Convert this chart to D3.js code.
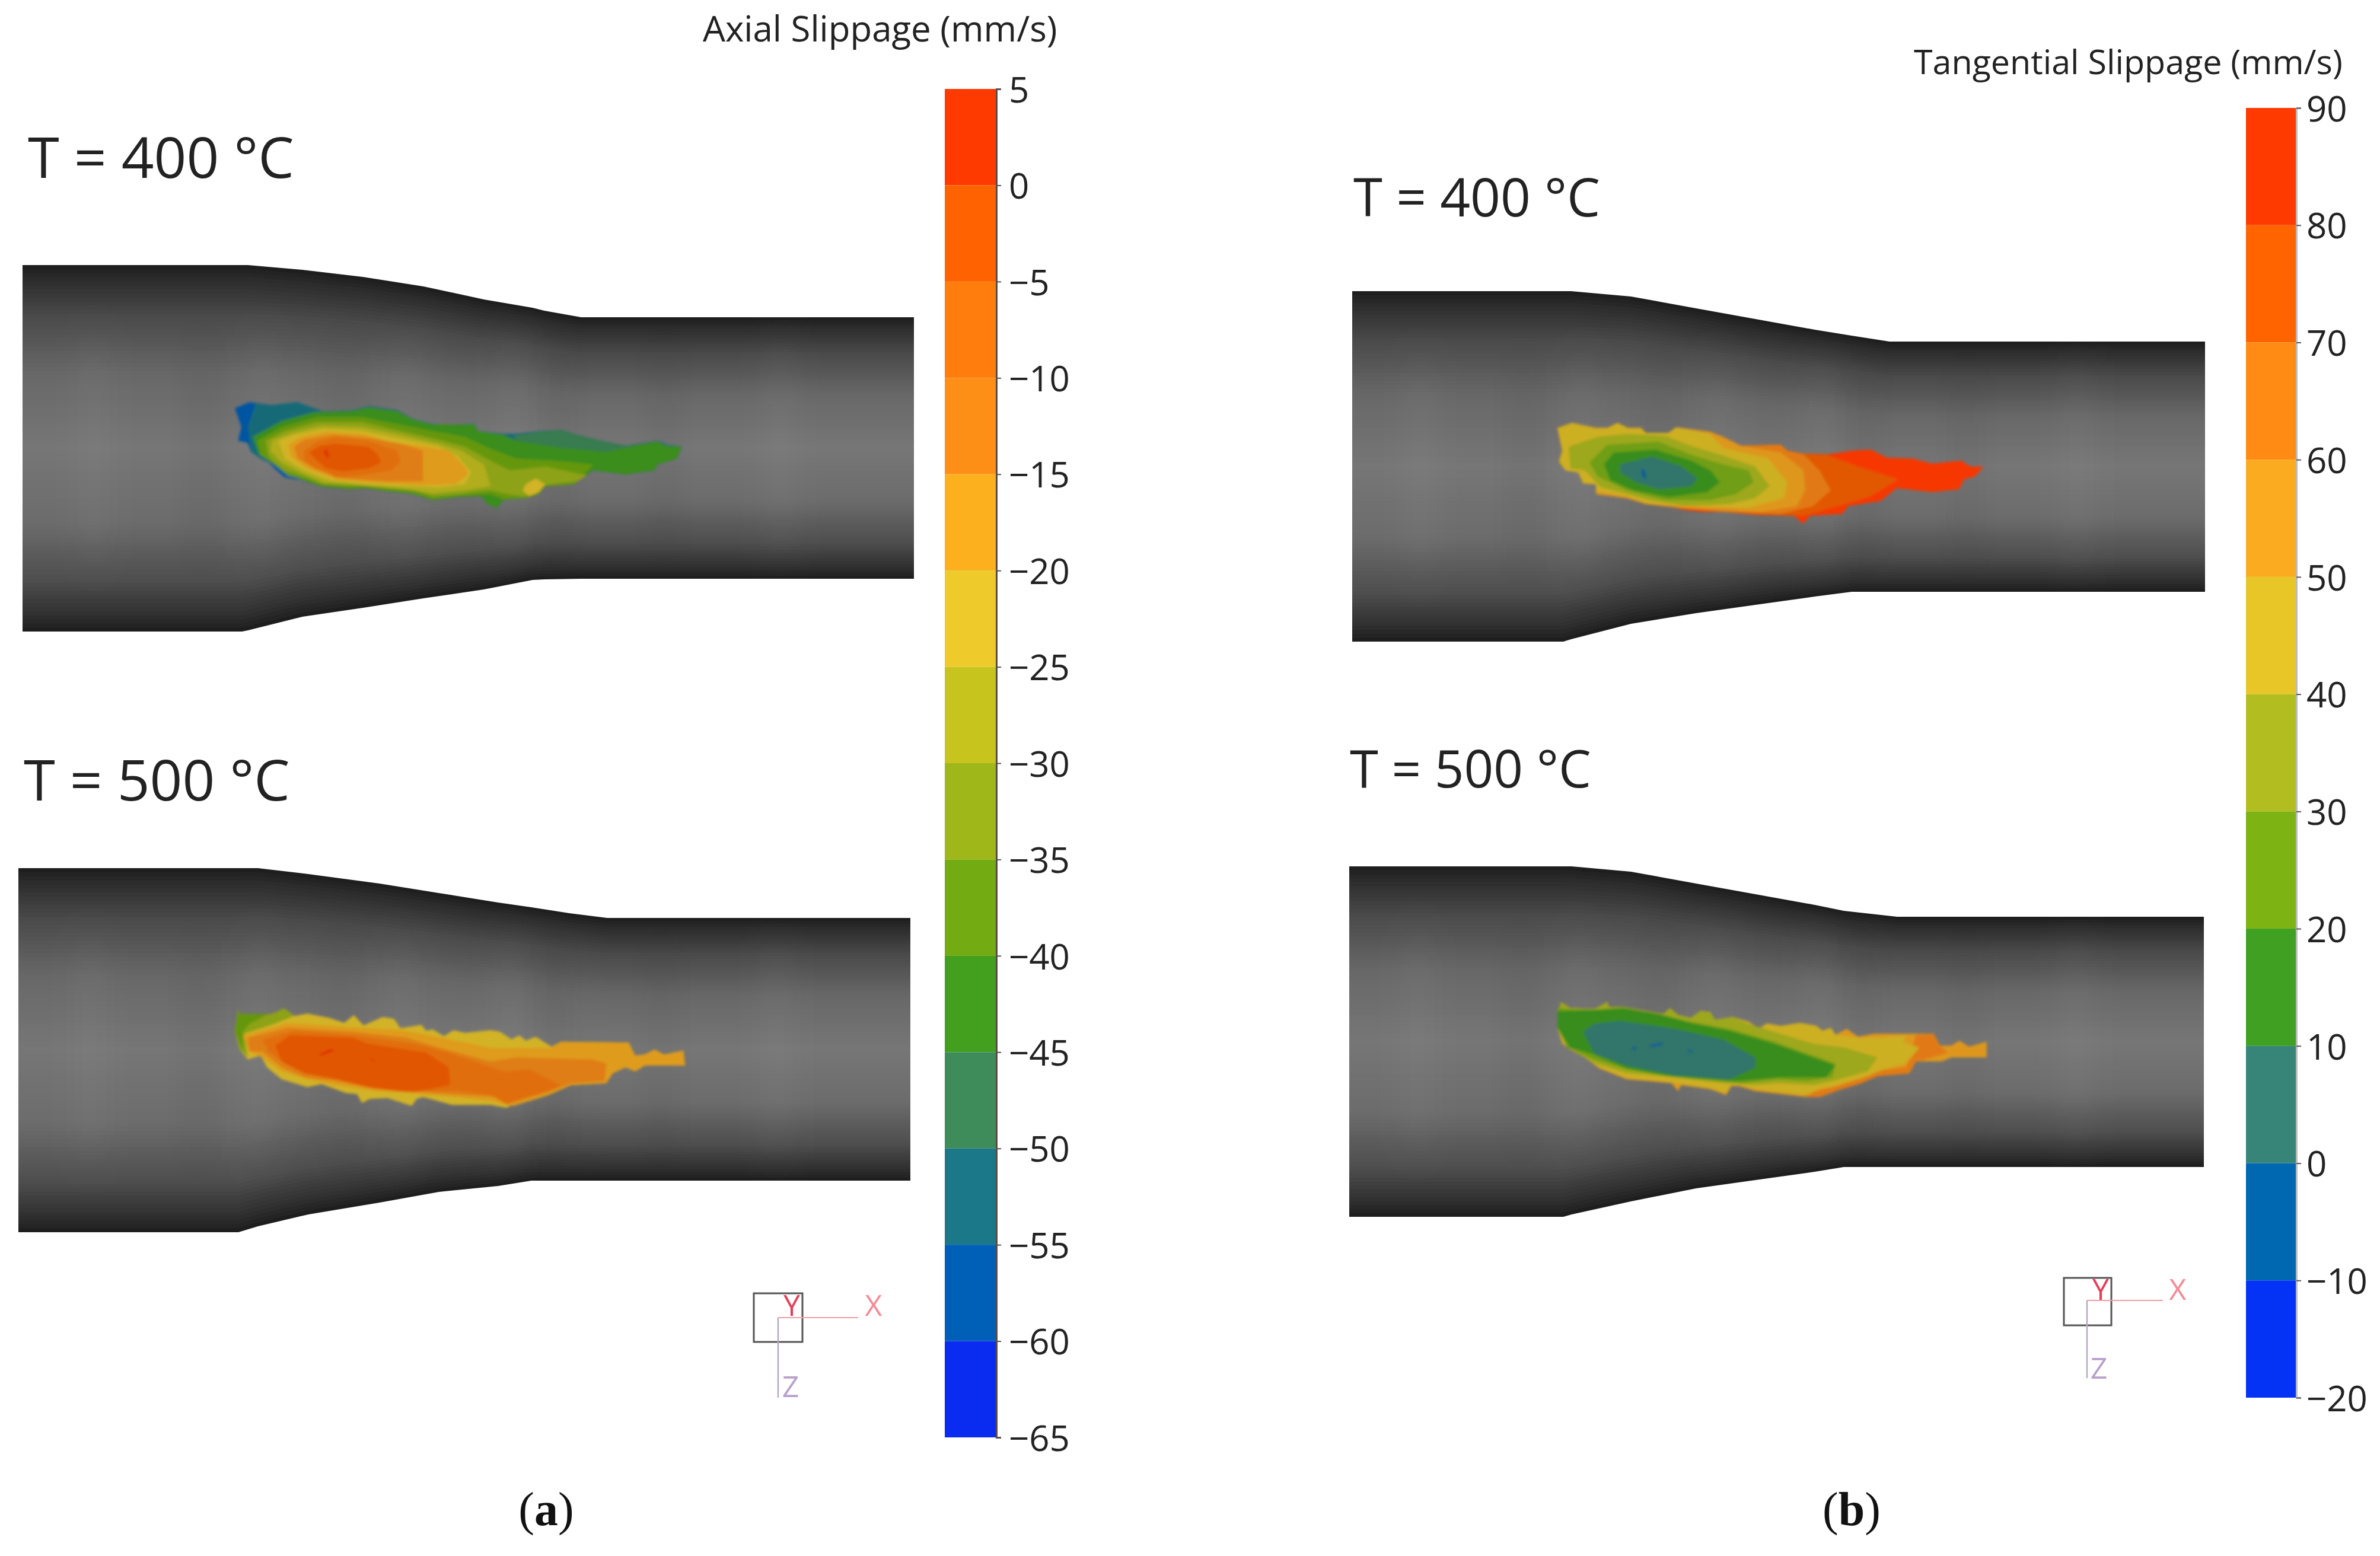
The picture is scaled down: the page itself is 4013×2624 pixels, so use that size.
<!DOCTYPE html>
<meta charset="utf-8">
<script src="https://d3js.org/d3.v7.min.js"></script>
<style>
  body { margin: 0; background: #fff; }
  text { font-family: "Open Sans", sans-serif; fill: #222; }
</style>
<div id="my_dataviz"></div>
<script>

// colour bar levels and colours, top band first
var axialLevels = [5, 0, -5, -10, -15, -20, -25, -30, -35, -40, -45, -50, -55, -60, -65];
var axialColors = ["#ff3a00", "#ff6200", "#ff7d0c", "#fd8f16", "#fdb01e", "#eecb2a", "#c8c41e", "#a0b71a", "#72ab12", "#42a01e", "#3e8c5a", "#1a7888", "#0060b8", "#0a2cf0"];
var tangLevels = [90, 80, 70, 60, 50, 40, 30, 20, 10, 0, -10, -20];
var tangColors = ["#ff3a00", "#ff6400", "#ff8a14", "#fbab20", "#e8c628", "#b2be20", "#7eb314", "#3fa022", "#368578", "#0068b0", "#0433f5"];

// tube outlines (px of the original figure)
var tubeA400x = [38, 408, 418, 510, 612, 714, 816, 898, 918, 980, 1541];
var tubeA400top = [447, 447, 447, 455, 467, 483, 505, 519, 524, 535, 535];
var tubeA400bot = [1065, 1065, 1063, 1040, 1025, 1009, 994, 978, 977, 976, 976];
var tubeA500x = [31, 402, 435, 520, 640, 740, 840, 896, 960, 1024, 1535];
var tubeA500top = [1464, 1464, 1464, 1474, 1490, 1506, 1522, 1530, 1540, 1548, 1548];
var tubeA500bot = [2078, 2078, 2068, 2048, 2028, 2010, 2000, 1991, 1991, 1991, 1991];
var tubeB400x = [2280, 2636, 2649, 2750, 2860, 2960, 3060, 3122, 3186, 3718];
var tubeB400top = [491, 491, 491, 500, 520, 538, 556, 566, 576, 576];
var tubeB400bot = [1082, 1082, 1078, 1052, 1034, 1020, 1006, 998, 998, 998];
var tubeB500x = [2275, 2636, 2650, 2750, 2860, 2960, 3060, 3109, 3199, 3716];
var tubeB500top = [1461, 1461, 1461, 1470, 1490, 1508, 1526, 1536, 1546, 1546];
var tubeB500bot = [2052, 2052, 2048, 2026, 2004, 1990, 1976, 1968, 1968, 1968];

var axial400 = [
  [-60, [[85,205],[130,175],[200,190],[280,175],[330,205],[360,222],[450,215],[500,195],[590,215],[640,260],[700,285],[740,290],[830,285],[840,320],[920,335],[960,335],[1040,320],[1100,315],[1160,345],[1240,375],[1300,395],[1400,370],[1430,390],[1475,400],[1460,460],[1400,490],[1390,520],[1300,540],[1200,520],[1160,560],[1140,590],[1050,600],[1030,640],[990,660],[920,670],[900,710],[870,690],[850,650],[780,655],[700,670],[640,640],[560,625],[490,610],[470,610],[440,615],[350,600],[300,570],[240,555],[215,520],[190,480],[165,460],[135,425],[125,380],[95,370],[105,300]]],
  [-55, [[150,180],[200,190],[280,175],[330,205],[360,222],[450,215],[500,195],[590,215],[640,260],[700,285],[740,290],[830,285],[840,320],[920,335],[960,335],[1040,320],[1100,315],[1160,345],[1240,375],[1300,395],[1400,370],[1430,390],[1475,400],[1460,460],[1400,490],[1390,520],[1300,540],[1200,520],[1160,560],[1140,590],[1050,600],[1030,640],[990,660],[920,670],[900,710],[870,690],[850,650],[780,655],[700,670],[640,640],[560,625],[490,610],[440,615],[350,600],[260,550],[235,510],[190,480],[165,460],[135,425],[125,300]]],
  [-50, [[950,345],[1040,322],[1100,315],[1160,345],[1240,375],[1300,395],[1400,370],[1420,395],[1300,430],[1100,410],[960,370]]],
  [-45, [[140,350],[230,270],[330,225],[450,218],[500,200],[590,220],[640,262],[700,287],[830,287],[840,320],[920,340],[960,370],[1100,405],[1240,425],[1300,405],[1400,375],[1430,395],[1475,400],[1460,460],[1400,490],[1390,520],[1300,540],[1200,520],[1160,560],[1140,590],[1050,600],[1030,640],[990,660],[920,670],[900,710],[870,690],[850,650],[780,655],[700,670],[640,640],[560,625],[490,610],[440,615],[350,600],[290,565],[235,520],[190,470],[160,440]]],
  [-40, [[155,370],[230,300],[340,250],[480,250],[590,285],[700,320],[800,350],[880,410],[960,460],[1080,470],[1200,490],[1160,560],[1140,590],[1050,600],[1030,640],[990,660],[920,665],[880,640],[780,650],[700,665],[640,635],[560,620],[490,605],[440,610],[350,595],[300,565],[250,545],[200,480],[165,440]]],
  [-35, [[180,370],[240,320],[340,275],[480,275],[600,320],[720,365],[800,400],[880,470],[940,520],[1050,500],[1180,545],[1150,575],[1040,595],[1020,640],[980,650],[930,640],[880,620],[780,640],[700,650],[640,620],[560,610],[500,600],[360,590],[300,550],[240,520],[190,450]]],
  [-30, [[200,370],[260,330],[350,295],[480,300],[600,340],[720,385],[790,420],[860,490],[880,600],[800,620],[700,635],[620,615],[510,600],[360,580],[290,530],[230,480],[195,420]]],
  [-25, [[990,590],[1020,560],[1050,590],[1030,630],[1000,650],[980,620]]],
  [-25, [[220,370],[270,340],[360,310],[480,320],[600,360],[720,400],[780,450],[820,530],[800,590],[720,605],[620,600],[500,590],[380,570],[300,520],[240,460]]],
  [-20, [[250,390],[290,350],[370,325],[480,335],[580,380],[680,400],[750,420],[800,500],[810,540],[770,590],[660,595],[500,580],[400,565],[310,510],[260,450]]],
  [-15, [[270,400],[300,365],[390,340],[500,355],[600,385],[670,420],[670,575],[560,575],[420,560],[330,510],[280,460]]],
  [-10, [[300,420],[340,375],[400,350],[500,370],[590,420],[600,480],[570,520],[480,545],[400,555],[340,510],[300,470]]],
  [-5, [[315,430],[350,395],[400,385],[500,400],[530,440],[540,480],[500,510],[420,525],[370,510],[340,470]]],
  [0, [[360,420],[372,415],[380,455],[368,450]]]
];
var axial500 = [
  [-25, [[95,125],[100,150],[200,150],[238,122],[270,160],[310,148],[380,170],[425,195],[455,155],[485,208],[545,165],[580,175],[600,222],[665,205],[680,235],[700,228],[735,262],[765,232],[800,245],[880,232],[910,240],[945,278],[970,258],[990,285],[1020,265],[1070,315],[1100,290],[1310,295],[1330,360],[1360,355],[1390,330],[1420,355],[1480,335],[1485,410],[1360,410],[1330,440],[1300,420],[1260,450],[1240,500],[1130,510],[1060,560],[1000,590],[970,590],[930,625],[880,610],[760,610],[670,570],[650,580],[635,615],[560,575],[505,580],[480,600],[465,555],[430,550],[355,505],[310,520],[230,480],[185,420],[165,360],[125,380],[100,330],[85,240]]],
  [-35, [[95,125],[100,150],[200,150],[238,122],[270,160],[200,205],[115,250],[125,370],[100,330],[85,240]]],
  [-40, [[95,125],[100,150],[190,150],[130,200],[110,240],[110,340],[85,240]]],
  [-20, [[110,260],[250,195],[430,215],[600,230],[700,260],[880,320],[1070,320],[1100,290],[1310,295],[1330,360],[1360,355],[1390,330],[1420,355],[1480,335],[1485,410],[1360,410],[1330,440],[1300,420],[1260,450],[1240,500],[1130,510],[1060,560],[1000,590],[950,615],[880,590],[700,560],[630,550],[520,540],[400,510],[310,480],[230,440],[170,370],[130,340]]],
  [-15, [[125,270],[250,220],[450,240],[620,270],[720,320],[880,390],[960,370],[1200,380],[1240,400],[1235,490],[1130,500],[1060,545],[990,580],[930,610],[900,570],[800,560],[700,550],[520,530],[400,490],[300,470],[230,420],[170,340],[130,340]]],
  [-10, [[170,280],[270,235],[460,260],[640,300],[740,340],[920,440],[1000,430],[1100,510],[1060,540],[990,570],[930,605],[880,560],[780,540],[680,540],[520,520],[400,480],[310,450],[240,400],[190,340]]],
  [-5, [[210,310],[255,258],[450,270],[500,300],[680,345],[750,420],[755,510],[640,545],[590,540],[500,520],[400,480],[300,450],[230,390]]],
  [0, [[345,355],[385,325],[395,335],[355,360]]],
  [0, [[500,365],[525,390],[515,390]]]
];
var tang400 = [
  [80, [[85,125],[130,100],[205,125],[240,125],[272,100],[305,125],[345,125],[360,150],[430,150],[455,122],[560,145],[600,170],[655,215],[780,210],[800,240],[850,255],[930,258],[1000,240],[1060,235],[1110,275],[1190,280],[1250,305],[1340,290],[1370,320],[1410,320],[1385,370],[1350,385],[1335,435],[1250,450],[1140,430],[1090,495],[990,520],[970,560],[870,570],[850,610],[820,570],[700,565],[600,550],[540,550],[480,540],[440,525],[360,510],[300,480],[205,460],[205,410],[165,405],[150,350],[110,340],[90,295],[100,240]]],
  [70, [[85,125],[130,100],[205,125],[240,125],[272,100],[305,125],[345,125],[360,150],[430,150],[455,122],[560,145],[600,170],[655,215],[780,210],[800,240],[850,255],[920,260],[1020,320],[1145,385],[1060,470],[980,510],[850,570],[700,560],[600,550],[440,525],[360,510],[300,480],[205,460],[205,410],[165,405],[150,350],[110,340],[90,295],[100,240]]],
  [60, [[85,125],[130,100],[205,125],[240,125],[272,100],[305,125],[345,125],[360,150],[430,150],[455,122],[560,145],[600,170],[655,215],[780,210],[800,240],[850,258],[900,340],[935,440],[880,520],[780,560],[600,550],[440,525],[360,510],[300,480],[205,460],[205,410],[165,405],[150,350],[110,340],[90,295],[100,240]]],
  [50, [[85,125],[130,100],[205,125],[240,125],[272,100],[305,125],[345,125],[360,150],[430,150],[455,122],[560,145],[600,170],[655,215],[780,250],[850,340],[855,440],[830,520],[720,550],[600,540],[480,530],[360,510],[300,480],[205,460],[205,410],[165,405],[150,350],[110,340],[90,295],[100,240]]],
  [40, [[85,125],[130,100],[205,125],[240,125],[272,100],[305,125],[345,125],[360,150],[430,150],[455,122],[560,155],[600,225],[740,280],[800,400],[790,480],[680,530],[470,520],[360,505],[300,470],[205,445],[205,410],[165,405],[150,350],[110,340],[90,295],[100,240]]],
  [30, [[120,220],[210,170],[300,155],[420,165],[500,215],[600,265],[700,320],[745,420],[700,480],[620,510],[480,520],[370,490],[280,450],[220,425],[170,340],[125,330]]],
  [20, [[185,300],[240,210],[400,195],[500,260],[590,305],[680,340],[695,400],[640,460],[560,490],[420,490],[300,440],[210,370]]],
  [10, [[230,310],[260,250],[390,235],[500,290],[560,340],[590,400],[550,450],[430,475],[320,440],[250,390]]],
  [0, [[280,310],[380,270],[470,320],[520,380],[500,420],[400,435],[330,400],[280,350]]],
  [-10, [[345,335],[355,335],[362,380],[350,375]]]
];
var tang500 = [
  [50, [[95,90],[125,120],[200,125],[240,90],[245,115],[290,115],[415,150],[435,120],[460,155],[500,170],[530,135],[560,140],[575,180],[630,165],[680,190],[712,225],[735,198],[780,210],[840,195],[890,210],[910,235],[935,220],[950,255],[985,225],[1020,265],[1070,250],[1255,250],[1275,310],[1310,310],[1335,285],[1365,315],[1420,290],[1420,370],[1310,370],[1280,390],[1200,390],[1180,450],[1080,465],[1030,500],[960,535],[900,570],[860,570],[700,540],[650,515],[625,515],[610,560],[560,530],[470,510],[460,540],[440,500],[300,480],[215,425],[170,370],[125,330],[100,300],[85,220]]],
  [60, [[1200,255],[1255,250],[1275,310],[1300,345],[1220,385],[1200,390],[1180,450],[1080,465],[1030,500],[960,535],[900,570],[860,570],[850,555],[960,510],[1060,440],[1170,420]]],
  [40, [[95,90],[125,120],[200,125],[240,90],[245,115],[290,115],[415,150],[435,120],[460,155],[500,170],[530,135],[560,140],[575,180],[630,165],[680,190],[712,225],[735,198],[780,210],[840,195],[890,210],[910,235],[935,220],[950,255],[1020,270],[1080,270],[1170,260],[1160,290],[1210,320],[1170,400],[1100,430],[1040,470],[940,520],[900,530],[860,560],[700,530],[650,510],[625,510],[610,550],[560,525],[470,505],[440,495],[300,475],[215,420],[170,365],[125,325],[100,295],[85,220]]],
  [30, [[95,90],[125,120],[200,125],[240,90],[245,115],[290,115],[415,150],[435,120],[460,155],[500,170],[530,135],[560,140],[575,180],[630,165],[680,200],[760,240],[880,300],[980,320],[1080,370],[1050,440],[940,490],[880,510],[770,500],[700,510],[600,500],[450,470],[300,450],[200,400],[120,320],[85,220]]],
  [20, [[85,120],[125,125],[200,128],[290,118],[400,150],[500,190],[620,225],[760,290],[880,360],[950,400],[940,470],[860,490],[770,480],[660,500],[450,470],[300,430],[200,380],[115,320],[85,220]]],
  [10, [[85,135],[200,130],[290,120],[400,150],[500,195],[620,235],[760,300],[880,370],[950,410],[920,470],[780,470],[640,490],[430,465],[300,425],[190,350],[125,320],[85,220]]],
  [0, [[165,240],[200,200],[280,185],[450,225],[600,280],[700,370],[700,420],[620,480],[450,460],[300,410],[200,350]]],
  [-10, [[370,310],[410,295],[412,305],[375,318]]],
  [-10, [[318,320],[328,315],[330,330],[318,330]]],
  [-10, [[490,325],[500,335],[505,345],[495,345]]]
];

// grey ramp across the tube, 0 = top edge, 1 = bottom edge
var shadeStops = [0, 0.04, 0.14, 0.3, 0.5, 0.7, 0.86, 0.96, 1];
var shadeGreys = ["#1c1c1c", "#2c2c2c", "#4a4a4a", "#686868", "#767676", "#6c6c6c", "#4e4e4e", "#2e2e2e", "#1c1c1c"];

// faint lengthwise mottling on the tube: where along it, sign of the change
var streakPos = [0.08, 0.2, 0.27, 0.36, 0.43, 0.55, 0.6, 0.72, 0.85];
var streakSign = [1, -1, 1, -1, 1, 1, -1, -1, 1];

var W = 4013, H = 2624;
var svg = d3.select("#my_dataviz").append("svg")
    .attr("width", W)
    .attr("height", H)
    .attr("viewBox", "0 0 " + W + " " + H)
    .style("display", "block");

var defs = svg.append("defs");
defs.append("filter")
    .attr("id", "soft")
    .attr("x", "-5%").attr("y", "-5%").attr("width", "110%").attr("height", "110%")
  .append("feGaussianBlur")
    .attr("stdDeviation", 2.2);
defs.append("filter")
    .attr("id", "streak")
    .attr("x", "-200%").attr("y", "-30%").attr("width", "500%").attr("height", "160%")
  .append("feGaussianBlur")
    .attr("stdDeviation", "24 40");

var shade = d3.scaleLinear().domain(shadeStops).range(shadeGreys);

// tube drawn as thin strips following the outline, so the shading narrows at the neck
function drawTube(id, xs, top, bot) {
  var g = svg.append("g");
  var n = 90;
  d3.range(n).forEach(function(k) {
    var f0 = k / n, f1 = (k + 1.3) / n;
    var area = d3.area()
      .x(function(d) { return d; })
      .y0(function(d, i) { return top[i] + (bot[i] - top[i]) * f0; })
      .y1(function(d, i) { return top[i] + (bot[i] - top[i]) * Math.min(f1, 1); });
    g.append("path")
      .attr("d", area(xs))
      .attr("fill", shade((k + 0.5) / n));
  });

  var outline = d3.area()
    .x(function(d) { return d; })
    .y0(function(d, i) { return top[i]; })
    .y1(function(d, i) { return bot[i]; });
  defs.append("clipPath").attr("id", id).append("path").attr("d", outline(xs));

  var along = d3.scaleLinear().domain([0, 1]).range([xs[0], xs[xs.length - 1]]);
  var yTop = d3.min(top), yBot = d3.max(bot);
  svg.append("g")
      .attr("clip-path", "url(#" + id + ")")
    .selectAll("rect")
    .data(streakPos)
    .enter()
    .append("rect")
      .attr("x", function(d) { return along(d) - 25; })
      .attr("width", 50)
      .attr("y", yTop + (yBot - yTop) * 0.2)
      .attr("height", (yBot - yTop) * 0.6)
      .attr("fill", function(d, i) { return streakSign[i] > 0 ? "#fff" : "#000"; })
      .attr("fill-opacity", 0.04)
      .attr("filter", "url(#streak)");
}
drawTube("tubeA400", tubeA400x, tubeA400top, tubeA400bot);
drawTube("tubeA500", tubeA500x, tubeA500top, tubeA500bot);
drawTube("tubeB400", tubeB400x, tubeB400top, tubeB400bot);
drawTube("tubeB500", tubeB500x, tubeB500top, tubeB500bot);

// colour of a band from its level; the band above level v is the one it sits in
// the patches are a bit duller than the bar because the tube is shaded under them
function bandColor(levels, colors, brightAbove) {
  return function(v) {
    var i = levels.indexOf(v);
    var c = colors[Math.max(0, i - 1)];
    return v >= brightAbove ? d3.rgb(c).darker(0.1) : d3.rgb(c).darker(0.35);
  };
}

// contour patch, bands come in crop coordinates and scales put them on the tube
function drawPatch(bands, color, xr, yr, hgt) {
  var x = d3.scaleLinear().domain([0, 1568]).range(xr);
  var y = d3.scaleLinear().domain([0, hgt]).range(yr);
  var line = d3.line()
    .x(function(d) { return x(d[0]); })
    .y(function(d) { return y(d[1]); })
    .curve(d3.curveLinearClosed);
  svg.append("g")
    .attr("filter", "url(#soft)")
    .selectAll("path")
    .data(bands)
    .enter()
    .append("path")
      .attr("d", function(d) { return line(d[1]); })
      .attr("fill", function(d) { return color(d[0]); });
}
var axialColor = bandColor(axialLevels, axialColors, 100);
var tangColor = bandColor(tangLevels, tangColors, 80);
drawPatch(axial400, axialColor, [350, 1200], [620, 880], 780);
drawPatch(axial500, axialColor, [350, 1200], [1660, 1920], 780);
drawPatch(tang400, tangColor, [2580, 3430], [680, 900], 660);
drawPatch(tang500, tangColor, [2580, 3430], [1660, 1880], 660);

// colour bars
function drawBar(levels, colors, x0, x1, y0, y1, labelGap, axisColor) {
  var y = d3.scaleLinear()
    .domain([levels[levels.length - 1], levels[0]])
    .range([y1, y0]);
  var g = svg.append("g");
  g.selectAll("rect")
    .data(colors)
    .enter()
    .append("rect")
      .attr("x", x0)
      .attr("width", x1 - x0)
      .attr("y", function(d, i) { return y(levels[i]); })
      .attr("height", function(d, i) { return y(levels[i + 1]) - y(levels[i]); })
      .attr("fill", function(d) { return d; });
  var axis = g.append("g")
    .attr("transform", "translate(" + x1 + ",0)")
    .call(d3.axisRight(y)
      .tickValues(levels)
      .tickSize(8)
      .tickPadding(labelGap)
      .tickFormat(function(d) { return d < 0 ? "\u2212" + (-d) : d; }));
  axis.select("path").attr("stroke", axisColor).attr("stroke-width", 3);
  axis.selectAll("line").attr("stroke", "#555").attr("stroke-width", 2);
  axis.selectAll("text")
    .style("font-size", "60px")
    .style("font-family", "'Open Sans', sans-serif")
    .attr("fill", "#222")
    .attr("transform", "translate(0,3)");
}
drawBar(axialLevels, axialColors, 1593, 1680, 150, 2424, 13, "#5a4a44");
drawBar(tangLevels, tangColors, 3787, 3872, 182, 2357, 9, "#bbbbbb");

// titles and temperature labels
var labels = [
  ["Axial Slippage (mm/s)", 1185, 70, 60],
  ["Tangential Slippage (mm/s)", 3227, 125, 57.4],
  ["T = 400 \u00b0C", 47, 300, 96],
  ["T = 500 \u00b0C", 40, 1350, 96],
  ["T = 400 \u00b0C", 2282, 365, 89],
  ["T = 500 \u00b0C", 2276, 1328, 87]
];
svg.selectAll("text.lab")
  .data(labels)
  .enter()
  .append("text")
    .attr("class", "lab")
    .attr("x", function(d) { return d[1]; })
    .attr("y", function(d) { return d[2]; })
    .style("font-size", function(d) { return d[3] + "px"; })
    .text(function(d) { return d[0]; });

// panel letters
[["a", 921], ["b", 3122]].forEach(function(p) {
  var t = svg.append("text")
    .attr("x", p[1])
    .attr("y", 2572)
    .attr("text-anchor", "middle")
    .style("font-family", "'Liberation Serif', serif")
    .style("font-size", "80px")
    .style("fill", "#111");
  t.append("tspan").text("(");
  t.append("tspan").attr("font-weight", "bold").text(p[0]);
  t.append("tspan").text(")");
});

// small axis triads in the corner of each panel
function drawTriad(sx, sy, s, ox, oy, xEnd, zEnd, xLab, tLab, zLab) {
  var g = svg.append("g");
  g.append("rect").attr("x", sx).attr("y", sy).attr("width", s).attr("height", s)
    .attr("fill", "none").attr("stroke", "#555").attr("stroke-width", 3);
  g.append("line").attr("x1", ox).attr("y1", oy).attr("x2", xEnd).attr("y2", oy)
    .attr("stroke", "#f0a0a8").attr("stroke-width", 2);
  g.append("line").attr("x1", ox).attr("y1", oy).attr("x2", ox).attr("y2", zEnd)
    .attr("stroke", "#b8a8c4").attr("stroke-width", 2.5);
  [["X", xLab[0], xLab[1], "#f58a96"], ["Y", tLab[0], tLab[1], "#e83c5a"], ["Z", zLab[0], zLab[1], "#b8a0cc"]].forEach(function(d) {
    g.append("text").attr("x", d[1]).attr("y", d[2]).attr("text-anchor", "middle")
      .attr("dominant-baseline", "central").style("font-size", "50px").style("fill", d[3]).text(d[0]);
  });
}
drawTriad(1271, 2181, 82, 1312, 2222, 1447, 2357, [1473, 2200], [1335, 2200], [1333, 2337]);
drawTriad(3480, 2155, 80, 3519, 2193, 3647, 2324, [3672, 2173], [3542, 2173], [3539, 2306]);

</script>
